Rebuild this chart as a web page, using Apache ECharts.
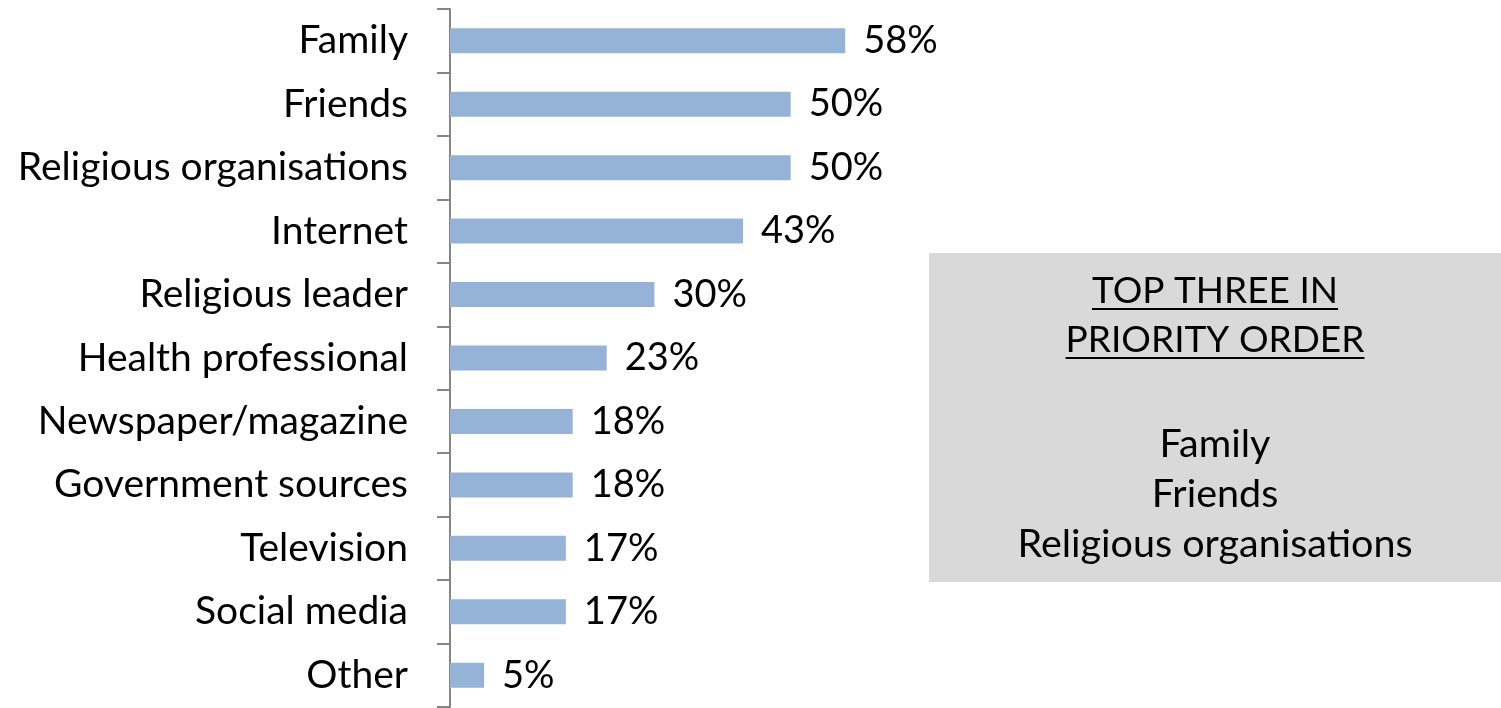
<!DOCTYPE html>
<html>
<head>
<meta charset="utf-8">
<script src="https://cdn.jsdelivr.net/npm/echarts@6/dist/echarts.min.js"></script>
<style>
  html, body { margin: 0; padding: 0; background: #fff; }
  #chart { width: 1501px; height: 708px; }
</style>
</head>
<body>
<div id="chart"></div>
<script>
// Sources of information, share of respondents (%)
const categories = [
  'Family', 'Friends', 'Religious organisations', 'Internet', 'Religious leader',
  'Health professional', 'Newspaper/magazine', 'Government sources', 'Television',
  'Social media', 'Other'
];
const shares = [58, 50, 50, 43, 30, 23, 18, 18, 17, 17, 5];

// Panel text
const panelHeading = ['TOP THREE IN', 'PRIORITY ORDER'];
const topThree = ['Family', 'Friends', 'Religious organisations'];

const FONT = 'Lato';
const chart = echarts.init(document.getElementById('chart'));

function textWidth(str, size) {
  const c = document.createElement('canvas').getContext('2d');
  c.font = size + 'px ' + FONT;
  return c.measureText(str).width;
}

const panel = { x: 929, y: 253, w: 572, h: 329 };
const cx = panel.x + panel.w / 2;
const headSize = 37, listSize = 39.5;
const headY = [291, 340];
const listY = [444, 494, 544];

const graphics = [
  { type: 'rect', shape: { x: panel.x, y: panel.y, width: panel.w, height: panel.h },
    style: { fill: '#d9d9d9' }, z: 0 }
];
panelHeading.forEach((t, i) => {
  graphics.push({ type: 'text', x: cx, y: headY[i],
    style: { text: t, fontFamily: FONT, fontSize: headSize, fill: '#000',
             textAlign: 'center', textVerticalAlign: 'middle' } });
  const w = textWidth(t, headSize);
  graphics.push({ type: 'line',
    shape: { x1: cx - w / 2, y1: headY[i] + 18, x2: cx + w / 2, y2: headY[i] + 18 },
    style: { stroke: '#000', lineWidth: 2 } });
});
topThree.forEach((t, i) => {
  graphics.push({ type: 'text', x: cx, y: listY[i],
    style: { text: t, fontFamily: FONT, fontSize: listSize, fill: '#000',
             textAlign: 'center', textVerticalAlign: 'middle' } });
});

chart.setOption({
  animation: false,
  grid: { left: 450, top: 9, width: 477, bottom: 1, containLabel: false },
  xAxis: {
    type: 'value', min: 0, max: 70, show: false
  },
  yAxis: {
    type: 'category',
    data: categories,
    inverse: true,
    axisLine: { show: true, lineStyle: { color: '#868686', width: 2 } },
    axisTick: { show: true, length: 13, lineStyle: { color: '#868686', width: 2 } },
    axisLabel: { color: '#000', fontFamily: FONT, fontSize: 39, margin: 42 },
    splitLine: { show: false }
  },
  series: [{
    type: 'bar',
    data: shares,
    barWidth: 25,
    itemStyle: { color: '#95b3d7' },
    label: {
      show: true, position: 'right', distance: 18,
      formatter: '{c}%', color: '#000', fontFamily: FONT, fontSize: 38
    }
  }],
  graphic: graphics
});
</script>
</body>
</html>
